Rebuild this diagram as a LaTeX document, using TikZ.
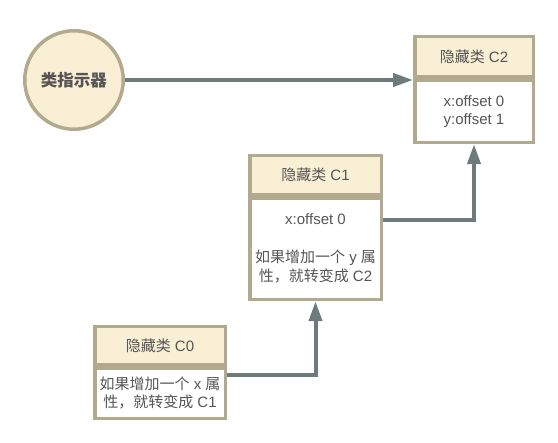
\documentclass[tikz,border=0pt]{standalone}
\usepackage{fontspec}
\usepackage{tikz}
\usetikzlibrary{arrows.meta}
\setmainfont{Liberation Sans}
\newfontfamily\cjk{Noto Sans CJK SC}
\newcommand\zh[1]{{\cjk #1}}
\definecolor{boxfill}{HTML}{F8EFD4}
\definecolor{boxline}{HTML}{B2AA8F}
\definecolor{linkgray}{HTML}{6D7B7B}
\definecolor{txtgray}{HTML}{555555}

\begin{document}
\begin{tikzpicture}[x=1pt,y=-1pt,
    every node/.style={text=txtgray,font=\fontsize{15}{19}\selectfont},
    pointernode/.style={circle,draw=boxline,fill=boxfill,line width=3.5pt,minimum size=98.5pt,inner sep=0pt,
        font=\fontsize{16.5}{20}\selectfont\cjk\bfseries},
    headbox/.style={rectangle,draw=boxline,fill=boxfill,line width=3.5pt,inner sep=0pt,anchor=north},
    bodybox/.style={rectangle,draw=boxline,fill=white,line width=3.5pt,inner sep=0pt,anchor=north,align=center},
    link/.style={draw=linkgray,line width=4pt,-{Triangle[length=20pt,width=13pt]}}]
                \useasboundingbox (0,0) rectangle (558,443);
                \node[pointernode] (pointer) at (74,80) {类指示器};
                \node[headbox,minimum width=118.5pt,minimum height=40.25pt] (c2head) at (474,34.75) {\zh{隐藏类} C2};
                \node[bodybox,minimum width=118.5pt,minimum height=62.25pt] (c2body) at (c2head.south) {x:offset 0\\[-1pt]y:offset 1};
                \node[headbox,minimum width=131.5pt,minimum height=39.25pt] (c1head) at (315.5,153.75) {\zh{隐藏类} C1};
                \node[bodybox,minimum width=131.5pt,minimum height=101.25pt] (c1body) at (c1head.south) {x:offset 0\\[19pt]\zh{如果增加一个} y \zh{属}\\\zh{性，就转变成} C2};
                \node[headbox,minimum width=130.5pt,minimum height=38.25pt] (c0head) at (160,324.75) {\zh{隐藏类} C0};
                \node[bodybox,minimum width=130.5pt,minimum height=50.25pt] (c0body) at (c0head.south) {\zh{如果增加一个} x \zh{属}\\[-1pt]\zh{性，就转变成} C1};
                \draw[link] (pointer) -- (pointer -| c2body.west);
                \draw[link] ([yshift=-24pt]c1body.north east) -| (c2body.south);
                \draw[link] ([yshift=-9pt]c0body.north east) -| (c1body.south);
            \end{tikzpicture}
\end{document}
